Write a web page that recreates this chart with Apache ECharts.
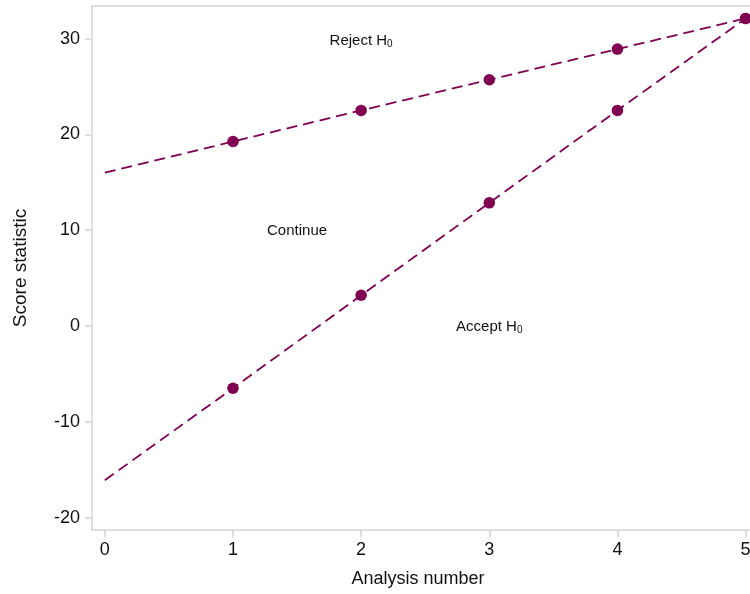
<!DOCTYPE html>
<html>
<head>
<meta charset="utf-8">
<script src="https://cdn.jsdelivr.net/npm/echarts@6/dist/echarts.min.js"></script>
<style>
  html, body { margin: 0; padding: 0; background: #fff; }
  #chart { width: 750px; height: 594px; }
</style>
</head>
<body>
<div id="chart"></div>
<script>
// Group-sequential stopping boundaries by analysis number
const analyses = [0, 1, 2, 3, 4, 5];
const upperBoundary = [16.0, 19.25, 22.5, 25.7, 28.9, 32.1];
const lowerBoundary = [-16.1, -6.5, 3.2, 12.85, 22.5, 32.1];
const xTicks = [0, 1, 2, 3, 4, 5];
const yTicks = [-20, -10, 0, 10, 20, 30];

// Region annotations: [x, y, label]
const regions = [
  [2.0, 29.8, 'reject'],
  [1.5, 9.9, 'continue'],
  [3.0, -0.1, 'accept']
];

const lineColor = '#800052';
const axisGray = '#d4d4d4';
const textColor = '#111';
const font = "'Liberation Sans', Arial, Helvetica, sans-serif";

const toPairs = (ys) => analyses.map((x, i) => [x, ys[i]]);
// The value at analysis 0 is the boundary intercept: no marker there
const markers = (ys) => analyses.slice(1).map((x, i) => [x, ys[i + 1]]);

const hRich = {
  t: { fontFamily: font, fontSize: 15, color: textColor },
  s: { fontFamily: font, fontSize: 10, color: textColor, padding: [7, 0, 0, 0] }
};
const regionText = {
  reject: '{t|Reject H}{s|0}',
  continue: '{t|Continue}',
  accept: '{t|Accept H}{s|0}'
};

const xRange = { min: -0.1, max: 5.05 };

const chart = echarts.init(document.getElementById('chart'), null, { renderer: 'canvas' });
chart.setOption({
  animation: false,
  backgroundColor: '#fff',
  textStyle: { fontFamily: font },
  grid: {
    left: 92, top: 6, right: -2, bottom: 64,
    outerBoundsMode: 'none',
    containLabel: false,
    show: false
  },
  xAxis: [
    {
      type: 'value',
      min: xRange.min,
      max: xRange.max,
      name: 'Analysis number',
      nameLocation: 'middle',
      nameGap: 40,
      nameTextStyle: { fontFamily: font, fontSize: 18, color: textColor, padding: [0, 8, 0, 0] },
      axisLine: { show: true, onZero: false, lineStyle: { color: axisGray, width: 1.5 } },
      axisTick: { show: true, length: 7, customValues: xTicks, lineStyle: { color: axisGray, width: 1.5 } },
      axisLabel: { customValues: xTicks, fontFamily: font, fontSize: 18, color: textColor, margin: 11 },
      splitLine: { show: false }
    },
    {
      // top frame line
      type: 'value',
      position: 'top',
      min: xRange.min,
      max: xRange.max,
      axisLine: { show: true, onZero: false, lineStyle: { color: axisGray, width: 1.5 } },
      axisTick: { show: false },
      axisLabel: { show: false },
      splitLine: { show: false }
    }
  ],
  yAxis: {
    type: 'value',
    min: -21.3,
    max: 33.4,
    name: 'Score statistic',
    nameLocation: 'middle',
    nameGap: 62,
    nameTextStyle: { fontFamily: font, fontSize: 19, color: textColor },
    axisLine: { show: true, onZero: false, lineStyle: { color: axisGray, width: 1.5 } },
    axisTick: { show: true, length: 7, customValues: yTicks, lineStyle: { color: axisGray, width: 1.5 } },
    axisLabel: { customValues: yTicks, fontFamily: font, fontSize: 18, color: textColor, margin: 12 },
    splitLine: { show: false }
  },
  series: [
    {
      name: 'Upper boundary',
      type: 'line',
      data: toPairs(upperBoundary),
      showSymbol: false,
      lineStyle: { color: lineColor, width: 1.8, type: [11, 6] },
      z: 2
    },
    {
      name: 'Lower boundary',
      type: 'line',
      data: toPairs(lowerBoundary),
      showSymbol: false,
      lineStyle: { color: lineColor, width: 1.8, type: [11, 6] },
      z: 2
    },
    {
      name: 'Upper analyses',
      type: 'scatter',
      data: markers(upperBoundary),
      symbol: 'circle',
      symbolSize: 11.5,
      itemStyle: { color: lineColor, opacity: 1 },
      z: 3
    },
    {
      name: 'Lower analyses',
      type: 'scatter',
      data: markers(lowerBoundary),
      symbol: 'circle',
      symbolSize: 11.5,
      itemStyle: { color: lineColor, opacity: 1 },
      z: 3
    },
    {
      name: 'Regions',
      type: 'scatter',
      data: regions.map(r => ({ value: [r[0], r[1]], key: r[2] })),
      symbolSize: 0,
      silent: true,
      itemStyle: { opacity: 1 },
      label: {
        show: true,
        position: 'inside',
        fontFamily: font,
        formatter: (p) => regionText[p.data.key],
        rich: hRich
      },
      z: 4
    }
  ]
});
</script>
</body>
</html>
